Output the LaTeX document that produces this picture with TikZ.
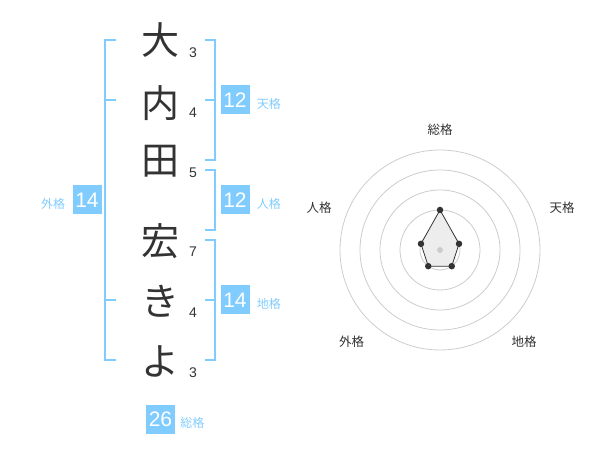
\documentclass[tikz,border=0pt]{standalone}
\usepackage{fontspec}
\setmainfont{Liberation Sans}
\newfontfamily\jpfont{Noto Sans CJK JP}
\usetikzlibrary{positioning}
\definecolor{kakublue}{HTML}{80CCFF}
\definecolor{inkgray}{HTML}{333333}
\tikzset{
  namechar/.style={font=\jpfont\fontsize{38}{38}\selectfont, text=inkgray, inner sep=0},
  strokenum/.style={font=\fontsize{14}{14}\selectfont, text=inkgray, inner sep=0},
  kakubox/.style={fill=kakublue, text=white, minimum size=29pt, inner sep=0, font=\fontsize{21}{21}\selectfont},
  kakulabel/.style={font=\jpfont\fontsize{12}{12}\selectfont, text=kakublue, inner sep=0},
  bracket/.style={draw=kakublue, line width=2pt},
  ring/.style={draw=black!20, line width=0.8pt},
  chartlabel/.style={font=\jpfont\fontsize{12.5}{12.5}\selectfont, text=inkgray, inner sep=0},
  chartdot/.style={circle, fill=inkgray, inner sep=0, minimum size=6.5pt},
}

\begin{document}
\begin{tikzpicture}[x=1pt,y=-1pt]
  \useasboundingbox (0,0) rectangle (600,470);

  \node[namechar] (c1) at (160,40) {大};
  \node[namechar] (c2) at (160,103) {内};
  \node[namechar] (c3) at (160,161) {田};
  \node[namechar] (c4) at (160,241) {宏};
  \node[namechar] (c5) at (160,301) {き};
  \node[namechar] (c6) at (160,361) {よ};
  \node[strokenum] (n1) at (193,53) {3};
  \node[strokenum] (n2) at (193,113) {4};
  \node[strokenum] (n3) at (193,173) {5};
  \node[strokenum] (n4) at (193,252) {7};
  \node[strokenum] (n5) at (193,313) {4};
  \node[strokenum] (n6) at (193,373) {3};

  % brackets
  \draw[bracket] (116,40) -- (105,40) -- (105,360) -- (116,360);
  \draw[bracket] (105,100) -- (116,100);
  \draw[bracket] (105,300) -- (116,300);
  \draw[bracket] (205,40) -- (215,40) -- (215,160) -- (205,160);
  \draw[bracket] (215,100) -- (205,100);
  \draw[bracket] (205,170) -- (215,170) -- (215,230) -- (205,230);
  \draw[bracket] (205,240) -- (215,240) -- (215,360) -- (205,360);
  \draw[bracket] (215,300) -- (205,300);

  \node[kakubox] (gai) at (87,200) {14};
  \node[kakulabel, left=7pt of gai, yshift=-4pt] (gaiL) {外格};
  \node[kakubox] (ten) at (235,100) {12};
  \node[kakulabel, right=7pt of ten, yshift=-4pt] (tenL) {天格};
  \node[kakubox] (jin) at (235,200) {12};
  \node[kakulabel, right=7pt of jin, yshift=-4pt] (jinL) {人格};
  \node[kakubox] (chi) at (235,300) {14};
  \node[kakulabel, right=7pt of chi, yshift=-4pt] (chiL) {地格};
  \node[kakubox] (sou) at (160.5,419) {26};
  \node[kakulabel, right=5pt of sou, yshift=-4pt] (souL) {総格};

  % radar chart
  \begin{scope}[shift={(440,250)}, yscale=-1]
    \foreach \r in {20,40,60,80,100}
      \draw[ring] (0,0) circle[radius=\r];
    \draw[inkgray, line width=0.8pt, fill=black!7] (90:40) -- (18:20) -- (-54:20) -- (-126:20) -- (162:20) -- cycle;
    \fill[black!20] (0,0) circle[radius=3];
    \node[chartdot] (pSou) at (90:40) {};
    \node[chartdot] (pTen) at (18:20) {};
    \node[chartdot] (pChi) at (-54:20) {};
    \node[chartdot] (pGai) at (-126:20) {};
    \node[chartdot] (pJin) at (162:20) {};
    \node[chartlabel] (lSou) at (0,120) {総格};
    \node[chartlabel] (lTen) at (122,42) {天格};
    \node[chartlabel] (lChi) at (84,-92) {地格};
    \node[chartlabel] (lGai) at (-88.5,-92) {外格};
    \node[chartlabel] (lJin) at (-121,42) {人格};
  \end{scope}
\end{tikzpicture}
\end{document}
